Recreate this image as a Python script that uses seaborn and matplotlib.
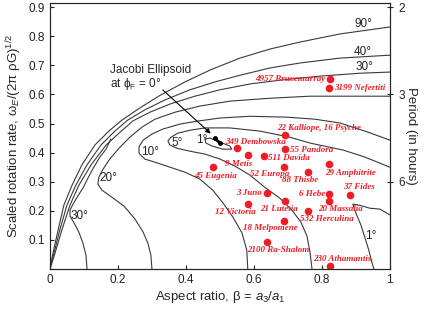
import matplotlib
matplotlib.use('Agg')
import matplotlib.pyplot as plt
import seaborn as sns
import pandas as pd

# ---------------- limit curves (beta, scaled spin) ----------------#
phi90_b = [0, 0.009, 0.024, 0.041, 0.065, 0.094, 0.132, 0.176, 0.212, 0.265, 0.324, 0.397, 0.471, 0.559, 0.647, 0.735, 0.853, 1.0]
phi90_w = [0, 0.055, 0.134, 0.220, 0.288, 0.358, 0.426, 0.477, 0.512, 0.554, 0.597, 0.643, 0.684, 0.725, 0.756, 0.780, 0.808, 0.832]

phi40_b = [0, 0.012, 0.029, 0.050, 0.076, 0.109, 0.150, 0.191, 0.229, 0.279, 0.338, 0.412, 0.485, 0.559, 0.647, 0.735, 0.853, 1.0]
phi40_w = [0, 0.055, 0.134, 0.220, 0.288, 0.358, 0.426, 0.474, 0.512, 0.547, 0.581, 0.616, 0.643, 0.666, 0.691, 0.708, 0.725, 0.735]

phi30u_b = [0, 0.015, 0.035, 0.059, 0.085, 0.121, 0.165, 0.206, 0.244, 0.294, 0.353, 0.426, 0.5, 0.588, 0.676, 0.794, 0.912, 1.0]
phi30u_w = [0, 0.055, 0.134, 0.220, 0.288, 0.358, 0.426, 0.470, 0.509, 0.539, 0.567, 0.594, 0.616, 0.636, 0.649, 0.663, 0.673, 0.677]

phi30l_b = [0.109, 0.106, 0.097, 0.085, 0.071, 0.059, 0.059, 0.068, 0.082, 0.097, 0.112, 0.129, 0.147, 0.165, 0.179]
phi30l_w = [0, 0.048, 0.089, 0.127, 0.158, 0.182, 0.203, 0.223, 0.251, 0.278, 0.313, 0.350, 0.385, 0.412, 0.447]

phi20_b = [0.3, 0.297, 0.288, 0.274, 0.25, 0.218, 0.182, 0.153, 0.141, 0.144, 0.156, 0.176, 0.203, 0.235, 0.271, 0.309, 0.368, 0.441, 0.529, 0.647, 0.765, 0.882, 1.0]
phi20_w = [0, 0.048, 0.089, 0.127, 0.172, 0.216, 0.247, 0.271, 0.292, 0.316, 0.343, 0.378, 0.415, 0.453, 0.488, 0.515, 0.539, 0.560, 0.577, 0.587, 0.594, 0.594, 0.594]

phi10_b = [0.582, 0.579, 0.565, 0.538, 0.509, 0.479, 0.441, 0.397, 0.353, 0.315, 0.279, 0.262, 0.262, 0.274, 0.3, 0.332, 0.382, 0.432, 0.5, 0.588, 0.697, 0.779, 0.853, 0.932, 1.0]
phi10_w = [0, 0.065, 0.124, 0.179, 0.227, 0.271, 0.309, 0.333, 0.350, 0.365, 0.378, 0.398, 0.420, 0.443, 0.464, 0.481, 0.498, 0.508, 0.519, 0.525, 0.522, 0.515, 0.502, 0.472, 0.443]

phi5_b = [0.771, 0.765, 0.756, 0.738, 0.712, 0.676, 0.632, 0.588, 0.544, 0.5, 0.456, 0.412, 0.374, 0.353, 0.347, 0.356, 0.376, 0.412, 0.456, 0.529, 0.618, 0.706, 0.765, 0.862, 0.926, 1.0]
phi5_w = [0, 0.058, 0.114, 0.162, 0.202, 0.244, 0.281, 0.323, 0.354, 0.378, 0.395, 0.405, 0.415, 0.426, 0.440, 0.453, 0.467, 0.477, 0.485, 0.485, 0.474, 0.453, 0.433, 0.409, 0.385, 0.350]

phi1a_b = [0.456, 0.471, 0.500, 0.529, 0.535, 0.509, 0.476, 0.459, 0.456]
phi1a_w = [0.447, 0.450, 0.436, 0.423, 0.412, 0.412, 0.423, 0.433, 0.447]

phi1b_b = [1.0, 0.971, 0.941, 0.912, 0.891, 0.900, 0.915, 0.926, 0.938, 0.947, 0.953]
phi1b_w = [0.186, 0.206, 0.209, 0.219, 0.223, 0.192, 0.151, 0.110, 0.065, 0.024, 0]

curve_labels = ['90\u00b0', '40\u00b0', '30\u00b0', '30\u00b0', '20\u00b0', '10\u00b0', '5\u00b0', '1\u00b0', '1\u00b0']
label_b = [0.921, 0.921, 0.926, 0.088, 0.171, 0.294, 0.374, 0.447, 0.943]
label_w = [0.842, 0.746, 0.694, 0.182, 0.313, 0.402, 0.433, 0.443, 0.114]

# ---------------- asteroids ----------------#
names = ['4957 Brucemurray', '3199 Nefertiti', '22 Kalliope, 16 Psyche', '349 Dembowska',
         '55 Pandora', '511 Davida', '9 Metis', '52 Europa', '45 Eugenia', '88 Thisbe',
         '29 Amphitrite', '3 Juno', '6 Hebe', '37 Fides', '12 Victoria', '21 Lutetia',
         '20 Massalia', '532 Herculina', '18 Melpomene', '2100 Ra-Shalom', '230 Athamantis']
ast_b = [0.824, 0.821, 0.691, 0.55, 0.691, 0.629, 0.582, 0.688, 0.479, 0.759,
         0.821, 0.638, 0.821, 0.882, 0.582, 0.691, 0.821, 0.759, 0.688, 0.638, 0.824]
ast_w = [0.653, 0.622, 0.460, 0.415, 0.412, 0.388, 0.392, 0.350, 0.350, 0.333,
         0.361, 0.261, 0.258, 0.254, 0.223, 0.234, 0.234, 0.199, 0.165, 0.092, 0.010]
# label offsets (points) and alignment
lab_dx = [-3.6, 3.6, -5.8, -8.6, 3.6, 2.9, 2.9, -10, 2.2, -5.8, -2.9, -3.6, -2.9, -5, -8.6, -4.3, 8.6, -5.8, -9.4, 8, 8.6]
lab_dy = [0, 0, 5, 4.3, -0.7, -1.4, -6.5, -5, -6.5, -5.8, -6.5, 0, 0, 5.8, -5.8, -5.8, -5.8, -5.8, -5, -5.8, 5]
lab_ha = ['right', 'left', 'left', 'left', 'left', 'left', 'right', 'center', 'center', 'center',
          'left', 'right', 'right', 'left', 'center', 'center', 'center', 'left', 'center', 'center', 'center']

jacobi_b = [0.485, 0.5]
jacobi_w = [0.450, 0.433]

period_ticks = [0.9, 0.6, 0.3]
period_labels = ['2', '3', '6']

# ---------------- build frames ----------------#
curves = {'90': (phi90_b, phi90_w), '40': (phi40_b, phi40_w), '30u': (phi30u_b, phi30u_w),
          '30l': (phi30l_b, phi30l_w), '20': (phi20_b, phi20_w), '10': (phi10_b, phi10_w),
          '5': (phi5_b, phi5_w), '1a': (phi1a_b, phi1a_w), '1b': (phi1b_b, phi1b_w)}
rows = []
for k, (bb, ww) in curves.items():
    for i, (b, w) in enumerate(zip(bb, ww)):
        rows.append((k, i, b, w))
df = pd.DataFrame(rows, columns=['curve', 'order', 'beta', 'omega'])
ast = pd.DataFrame({'beta': ast_b, 'omega': ast_w, 'name': names})

sns.set_style('ticks')
plt.rcParams['font.family'] = ['Liberation Sans', 'DejaVu Sans']
plt.rcParams['mathtext.fontset'] = 'custom'
plt.rcParams['mathtext.rm'] = 'Liberation Sans'
plt.rcParams['mathtext.it'] = 'Liberation Sans:italic'

fig, ax = plt.subplots(figsize=(4.27, 3.11), dpi=100)
fig.subplots_adjust(left=0.117, right=0.913, bottom=0.135, top=0.99)

sns.lineplot(data=df, x='beta', y='omega', units='curve', estimator=None, sort=False,
             color='#3a3a3a', lw=0.8, ax=ax, legend=False)
sns.scatterplot(data=ast, x='beta', y='omega', color='#ee1c24', s=30, linewidth=0, ax=ax, zorder=5)

for n, b, w, dx, dy, ha in zip(names, ast_b, ast_w, lab_dx, lab_dy, lab_ha):
    ax.annotate(n, (b, w), xytext=(dx, dy), textcoords='offset points', ha=ha, va='center',
                color='#ee1c24', fontsize=6.5, family='Liberation Serif', style='italic',
                weight='bold', zorder=6)

for t, b, w in zip(curve_labels, label_b, label_w):
    ax.text(b, w, t, ha='center', va='center', fontsize=8.5, color='#222222')

# Jacobi ellipsoid marker + arrow
ax.plot(jacobi_b, jacobi_w, color='black', lw=2, marker='o', ms=2.5, zorder=6)
ax.annotate('', xy=(0.479, 0.459), xytext=(0.326, 0.622),
            arrowprops=dict(arrowstyle='-|>', color='black', lw=0.8, mutation_scale=7))
ax.text(0.176, 0.684, 'Jacobi Ellipsoid', fontsize=8.5, ha='left', va='center')
ax.text(0.176, 0.636, r'at $\mathrm{\phi_F}$ = 0' + '\u00b0', fontsize=8.5, ha='left', va='center')

ax.set_xlim(0, 1)
ax.set_ylim(0, 0.914)
ax.set_xticks([0, 0.2, 0.4, 0.6, 0.8, 1.0])
ax.set_xticklabels(['0', '0.2', '0.4', '0.6', '0.8', '1'])
ax.set_yticks([0, 0.1, 0.2, 0.3, 0.4, 0.5, 0.6, 0.7, 0.8, 0.9])
ax.set_yticklabels(['', '0.1', '0.2', '0.3', '0.4', '0.5', '0.6', '0.7', '0.8', '0.9'])
ax.tick_params(direction='in', length=3, width=0.8, labelsize=8.5, colors='#222222')
ax.set_xlabel(r'Aspect ratio, $\mathrm{\beta}$ = $a_3/a_1$', fontsize=9.5, labelpad=2)
ax.set_ylabel(r'Scaled rotation rate, $\mathrm{\omega_{\mathit{E}}/(2\pi\ \rho G)^{1/2}}$', fontsize=9.5, labelpad=3)
for s in ax.spines.values():
    s.set_linewidth(0.8)
    s.set_color('#222222')

ax2 = ax.twinx()
ax2.set_ylim(0, 0.914)
ax2.set_yticks(period_ticks)
ax2.set_yticklabels(period_labels)
ax2.tick_params(direction='inout', length=5, width=0.8, labelsize=8.5, colors='#222222')
ax2.set_ylabel('Period (in hours)', rotation=270, fontsize=9.5, labelpad=9)

fig.savefig('out.png', dpi=100)
